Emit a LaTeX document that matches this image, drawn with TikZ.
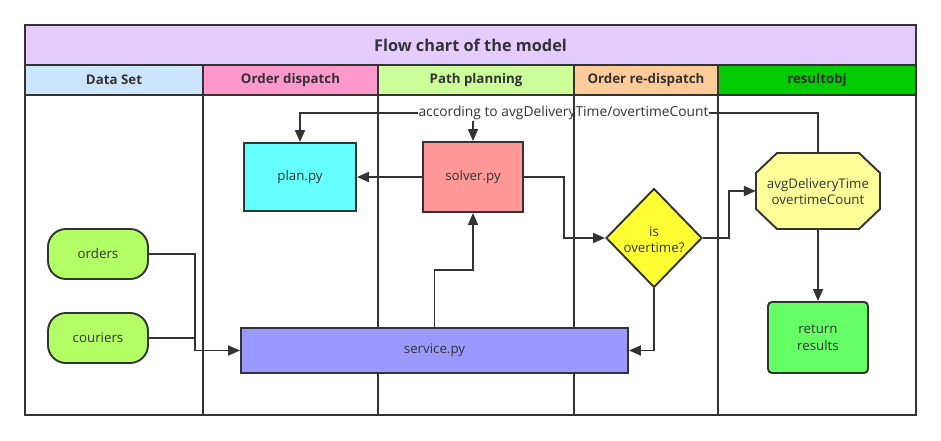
\documentclass[tikz,border=0pt]{standalone}
\usepackage{fontspec}
\setmainfont{Open Sans}
\usetikzlibrary{arrows.meta,shapes.geometric}
\definecolor{ink}{HTML}{333333}
\definecolor{cTitle}{HTML}{E5CCFF}
\definecolor{cData}{HTML}{CCE5FF}
\definecolor{cOrder}{HTML}{FF99CC}
\definecolor{cPath}{HTML}{CCFF99}
\definecolor{cRe}{HTML}{FFCC99}
\definecolor{cRes}{HTML}{00CC00}
\definecolor{cPlan}{HTML}{66FFFF}
\definecolor{cSolver}{HTML}{FF9999}
\definecolor{cData2}{HTML}{B3FF66}
\definecolor{cService}{HTML}{9999FF}
\definecolor{cDec}{HTML}{FFFF33}
\definecolor{cOct}{HTML}{FFFF99}
\definecolor{cRet}{HTML}{66FF66}
\pgfdeclarelayer{bg}
\pgfdeclarelayer{lanes}
\pgfsetlayers{bg,lanes,main}
\tikzset{
  x=1pt, y=-1pt,
  every node/.style={text=ink, font=\fontsize{13.3}{16}\selectfont},
  box/.style={draw=ink, line width=1.9pt, inner sep=0pt, align=center},
  hdr/.style={font=\bfseries\fontsize{13.3}{16}\selectfont},
  arr/.style={draw=ink, line width=1.8pt, -{Triangle[length=12pt,width=10pt]}},
  ln/.style={draw=ink, line width=1.8pt},
  frame/.style={draw=ink, line width=2.1pt},
}
\begin{document}
\begin{tikzpicture}
\useasboundingbox (0,0) rectangle (941,441);
% nodes
\node[box, fill=cPlan, minimum width=112pt, minimum height=68pt] (plan) at (300,177) {plan.py};
\node[box, fill=cSolver, minimum width=100pt, minimum height=70pt] (solver) at (473,177) {solver.py};
\node[box, fill=cData2, rounded corners=18pt, minimum width=100pt, minimum height=50pt] (orders) at (98,254) {orders};
\node[box, fill=cData2, rounded corners=18pt, minimum width=100pt, minimum height=50pt] (couriers) at (98,338) {couriers};
\node[box, fill=cService, minimum width=387pt, minimum height=45pt] (service) at (434.5,350.5) {service.py};
\node[box, diamond, fill=cDec, minimum width=96pt, minimum height=99pt] (dec) at (654,238) {};
\node[align=center] (dectext) at (654,240) {is\\overtime?};
\filldraw[fill=cOct, draw=ink, line width=1.9pt]
  (777,153) -- (859,153) -- (880,173) -- (880,209) -- (859,229) -- (777,229) -- (756,209) -- (756,173) -- cycle;
\node[inner sep=0pt, minimum width=124pt, minimum height=76pt, align=center] (oct) at (818,192) {avgDeliveryTime\\overtimeCount};
\node[box, fill=cRet, rounded corners=4pt, minimum width=100pt, minimum height=71pt] (ret) at (818,337.5) {return\\[1pt]results};
% connectors
\coordinate (jn) at (195,350.5);
\coordinate (k) at (473,270);
\coordinate (c) at (564,238);
\coordinate (d) at (729,191);
\coordinate (t) at (300,113);
\draw[arr] (orders.east) -| (jn) -- (service.west);
\draw[ln] (couriers.east) -- (couriers.east -| jn);
\draw[arr] (service.north) |- (k) -- (solver.south);
\draw[arr] (solver.west) -- (plan.east);
\draw[arr] (solver.east) -| (c) -- (dec.west);
\draw[arr] (dec.east) -| (d) -- (d -| oct.west);
\draw[arr] (dec.south) |- (service.east);
\draw[arr] (oct.south) -- (ret.north);
\begin{pgfonlayer}{bg}
\fill[cTitle] (25,25) rectangle (916,65);
\fill[cData] (25,65) rectangle (203,95);
\fill[cOrder] (203,65) rectangle (378,95);
\fill[cPath] (378,65) rectangle (574,95);
\fill[cRe] (574,65) rectangle (718,95);
\fill[cRes] (718,65) rectangle (916,95);
\draw[arr] (oct.north) |- (t) -- (plan.north);
\draw[arr] (solver.north |- t) -- (solver.north);
\node[fill=white, inner sep=1pt, font=\fontsize{13.8}{16}\selectfont] (lbl) at (563.5,113) {according to avgDeliveryTime/overtimeCount};
\end{pgfonlayer}
\node[font=\bfseries\fontsize{16.3}{19}\selectfont] (title) at (470.5,45) {Flow chart of the model};
\node[hdr] (h1) at (114,80) {Data Set};
\node[hdr] (h2) at (290.5,80) {Order dispatch};
\node[hdr] (h3) at (476,80) {Path planning};
\node[hdr] (h4) at (646,80) {Order re-dispatch};
\node[hdr] (h5) at (817,80) {resultobj};
\begin{pgfonlayer}{lanes}
\draw[frame] (25,65) -- (916,65);
\draw[frame] (25,95) -- (916,95);
\draw[frame] (203,65) -- (203,415);
\draw[frame] (378,65) -- (378,415);
\draw[frame] (574,65) -- (574,415);
\draw[frame] (718,65) -- (718,415);
\draw[frame] (25,25) rectangle (916,415);
\end{pgfonlayer}
\end{tikzpicture}
\end{document}
